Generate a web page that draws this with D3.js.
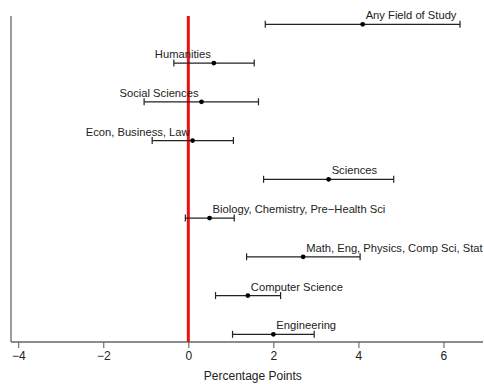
<!DOCTYPE html>
<html>
<head>
<meta charset="utf-8">
<script src="https://cdn.jsdelivr.net/npm/d3@7"></script>
<style>
  html, body { margin: 0; padding: 0; background: #fff; }
  svg { display: block; font-family: "Liberation Sans", Arial, Helvetica, sans-serif; }
</style>
</head>
<body>
<svg id="chart" width="484" height="384"></svg>
<script>
// Fields of study, top to bottom
const fields = [
  "Any Field of Study",
  "Humanities",
  "Social Sciences",
  "Econ, Business, Law",
  "Sciences",
  "Biology, Chemistry, Pre\u2212Health Sci",
  "Math, Eng, Physics, Comp Sci, Stat",
  "Computer Science",
  "Engineering"
];
// Point estimates (percentage points)
const estimates = [4.10, 0.60, 0.31, 0.10, 3.30, 0.50, 2.70, 1.40, 2.00];
// Confidence interval bounds
const lower = [1.81, -0.34, -1.04, -0.85, 1.77, -0.07, 1.37, 0.64, 1.04];
const upper = [6.39, 1.55, 1.65, 1.06, 4.83, 1.08, 4.04, 2.17, 2.96];
// Which side of the point each label sits on
const labelSide = ["right", "left", "left", "left", "right", "right", "right", "right", "right"];
// Axis ticks
const xTicks = [-4, -2, 0, 2, 4, 6];
const xTitle = "Percentage Points";

const svg = d3.select("#chart");
const plot = { left: 11, right: 483, top: 16, bottom: 342 };

const x = d3.scaleLinear().domain([-4.17, 6.93]).range([plot.left, plot.right]);
const y = d3.scalePoint().domain(fields).range([24.3, 334.3]);

// Axes
const xAxis = d3.axisBottom(x)
  .tickValues(xTicks)
  .tickSize(6)
  .tickPadding(3)
  .tickFormat(d => d < 0 ? "\u2212" + Math.abs(d) : String(d));

const gx = svg.append("g")
  .attr("transform", `translate(0,${plot.bottom})`)
  .call(xAxis);
gx.select(".domain").remove();
gx.selectAll(".tick line").attr("stroke", "#555").attr("stroke-width", 1);
gx.selectAll(".tick text").attr("font-size", 12).attr("fill", "#222")
  .attr("font-family", "Liberation Sans, Arial, sans-serif");

svg.append("line")
  .attr("x1", plot.left).attr("x2", plot.right)
  .attr("y1", plot.bottom).attr("y2", plot.bottom)
  .attr("stroke", "#666").attr("stroke-width", 1.3);
svg.append("line")
  .attr("x1", plot.left).attr("x2", plot.left)
  .attr("y1", plot.top).attr("y2", plot.bottom)
  .attr("stroke", "#666").attr("stroke-width", 1.3);

svg.append("text")
  .attr("x", (x(-4) + x(6)) / 2 + 22)
  .attr("y", 380)
  .attr("text-anchor", "middle")
  .attr("font-size", 12)
  .attr("fill", "#222")
  .text(xTitle);

// Zero reference line
svg.append("line")
  .attr("x1", x(0)).attr("x2", x(0))
  .attr("y1", plot.top).attr("y2", plot.bottom)
  .attr("stroke", "#ee1111").attr("stroke-width", 3);

const rows = fields.map((f, i) => ({
  field: f, est: estimates[i], lo: lower[i], hi: upper[i], side: labelSide[i]
}));

const g = svg.append("g").selectAll("g").data(rows).join("g")
  .attr("transform", d => `translate(0,${y(d.field)})`);

g.append("line")
  .attr("x1", d => x(d.lo)).attr("x2", d => x(d.hi))
  .attr("stroke", "#222").attr("stroke-width", 1.2);
g.append("line")
  .attr("x1", d => x(d.lo)).attr("x2", d => x(d.lo))
  .attr("y1", -3.5).attr("y2", 3.5)
  .attr("stroke", "#222").attr("stroke-width", 1.2);
g.append("line")
  .attr("x1", d => x(d.hi)).attr("x2", d => x(d.hi))
  .attr("y1", -3.5).attr("y2", 3.5)
  .attr("stroke", "#222").attr("stroke-width", 1.2);
g.append("circle")
  .attr("cx", d => x(d.est)).attr("cy", 0).attr("r", 2.4)
  .attr("fill", "#000");
g.append("text")
  .attr("x", d => x(d.est) + (d.side === "right" ? 3 : -3))
  .attr("y", -5)
  .attr("text-anchor", d => d.side === "right" ? "start" : "end")
  .attr("font-size", 11.2)
  .attr("fill", "#222")
  .text(d => d.field);
</script>
</body>
</html>
